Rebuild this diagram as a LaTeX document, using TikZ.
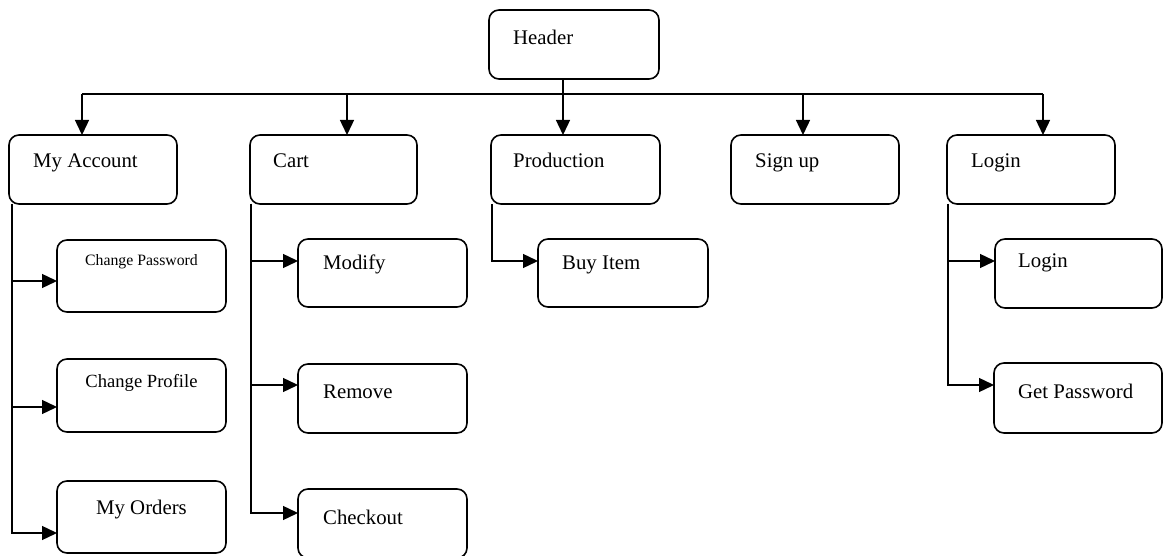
\documentclass[tikz,border=0pt]{standalone}
\usepackage{fontspec}
\setmainfont{Liberation Serif}
\usetikzlibrary{arrows.meta}
\begin{document}
\begin{tikzpicture}[x=1pt,y=-1pt,
  box/.style={draw, line width=1.6pt, rounded corners=10pt, anchor=north west,
    minimum width=169pt, minimum height=69pt, inner sep=0pt, outer sep=0pt},
  lbl/.style={anchor=base west, inner sep=0pt, font=\fontsize{20.8}{24}\selectfont},
  clbl/.style={anchor=base, inner sep=0pt},
  bus/.style={line width=1.4pt},
  link/.style={line width=1.4pt, -{Triangle[length=15pt,width=14pt]}}]
\useasboundingbox (0,0) rectangle (1163,556);

% top level
\node[box, minimum width=170pt] (header) at (489,10) {};
\node[lbl] (header-t) at ([xshift=24pt,yshift=-35pt]header.north west) {Header};

% second level
\node[box, minimum width=168pt] (acc)   at (9,135)   {};
\node[box, minimum width=167pt] (cart)  at (250,135) {};
\node[box]                      (prod)  at (491,135) {};
\node[box, minimum width=168pt] (sign)  at (731,135) {};
\node[box, minimum width=168pt] (login) at (947,135) {};
\node[lbl] (acc-t)   at ([xshift=24pt,yshift=-33pt]acc.north west)   {My Account};
\node[lbl] (cart-t)  at ([xshift=23pt,yshift=-33pt]cart.north west)  {Cart};
\node[lbl] (prod-t)  at ([xshift=22pt,yshift=-33pt]prod.north west)  {Production};
\node[lbl] (sign-t)  at ([xshift=24pt,yshift=-33pt]sign.north west)  {Sign up};
\node[lbl] (login-t) at ([xshift=24pt,yshift=-33pt]login.north west) {Login};

% My Account children
\node[box, minimum height=72pt] (cpw) at (57,240) {};
\node[box, minimum height=73pt] (cpr) at (57,359) {};
\node[box, minimum height=72pt] (ord) at (57,481) {};
\node[clbl, font=\fontsize{15.8}{18}\selectfont] (cpw-t) at ([yshift=-26pt]cpw.north) {Change Password};
\node[clbl, font=\fontsize{18.6}{22}\selectfont] (cpr-t) at ([yshift=-29pt]cpr.north) {Change Profile};
\node[clbl, font=\fontsize{20.8}{24}\selectfont] (ord-t) at ([yshift=-33pt]ord.north) {My Orders};

% Cart children
\node[box, minimum height=68pt] (mod) at (298,239) {};
\node[box]                      (rem) at (298,364) {};
\node[box]                      (chk) at (298,489) {};
\node[lbl] (mod-t) at ([xshift=25pt,yshift=-31pt]mod.north west) {Modify};
\node[lbl] (rem-t) at ([xshift=25pt,yshift=-34pt]rem.north west) {Remove};
\node[lbl] (chk-t) at ([xshift=25pt,yshift=-35pt]chk.north west) {Checkout};

% Production child
\node[box, minimum width=170pt, minimum height=68pt] (buy) at (538,239) {};
\node[lbl] (buy-t) at ([xshift=24pt,yshift=-31pt]buy.north west) {Buy Item};

% Login children
\node[box, minimum width=167pt] (lg2) at (995,239) {};
\node[box, minimum width=168pt, minimum height=70pt] (gpw) at (994,363) {};
\node[lbl] (lg2-t) at ([xshift=23pt,yshift=-29pt]lg2.north west) {Login};
\node[lbl] (gpw-t) at ([xshift=24pt,yshift=-35pt]gpw.north west) {Get Password};

% entry points on the top edges of the second level
\coordinate (busy)     at (0,94);
\coordinate (acc-in)   at ([xshift=73pt]acc.north west);
\coordinate (cart-in)  at ([xshift=97pt]cart.north west);
\coordinate (prod-in)  at ([xshift=72pt]prod.north west);
\coordinate (sign-in)  at ([xshift=72pt]sign.north west);
\coordinate (login-in) at ([xshift=96pt]login.north west);

% distribution bus
\draw[bus] (acc-in |- busy) -- (login-in |- busy);
\foreach \n in {acc,cart,sign,login}
  \draw[link] (\n-in |- busy) -- (\n-in);
\draw[link] (header.south -| prod-in) -- (prod-in);

% spines below the second level
\coordinate (acc-sp)   at ([xshift=3pt]acc.south west);
\coordinate (cart-sp)  at ([xshift=1pt]cart.south west);
\coordinate (prod-sp)  at ([xshift=1pt]prod.south west);
\coordinate (login-sp) at ([xshift=1pt]login.south west);

% entry points on the left edges of the third level
\coordinate (cpw-in) at ([yshift=-41pt]cpw.north west);
\coordinate (cpr-in) at ([yshift=-48pt]cpr.north west);
\coordinate (ord-in) at ([yshift=-52pt]ord.north west);
\coordinate (mod-in) at ([yshift=-22pt]mod.north west);
\coordinate (rem-in) at ([yshift=-21pt]rem.north west);
\coordinate (chk-in) at ([yshift=-24pt]chk.north west);
\coordinate (buy-in) at ([yshift=-22pt]buy.north west);
\coordinate (lg2-in) at ([yshift=-22pt]lg2.north west);
\coordinate (gpw-in) at ([yshift=-22pt]gpw.north west);

\foreach \c in {cpw,cpr,ord} \draw[link] (acc-sp) |- (\c-in);
\foreach \c in {mod,rem,chk} \draw[link] (cart-sp) |- (\c-in);
\draw[link] (prod-sp) |- (buy-in);
\foreach \c in {lg2,gpw} \draw[link] (login-sp) |- (\c-in);
\end{tikzpicture}
\end{document}
